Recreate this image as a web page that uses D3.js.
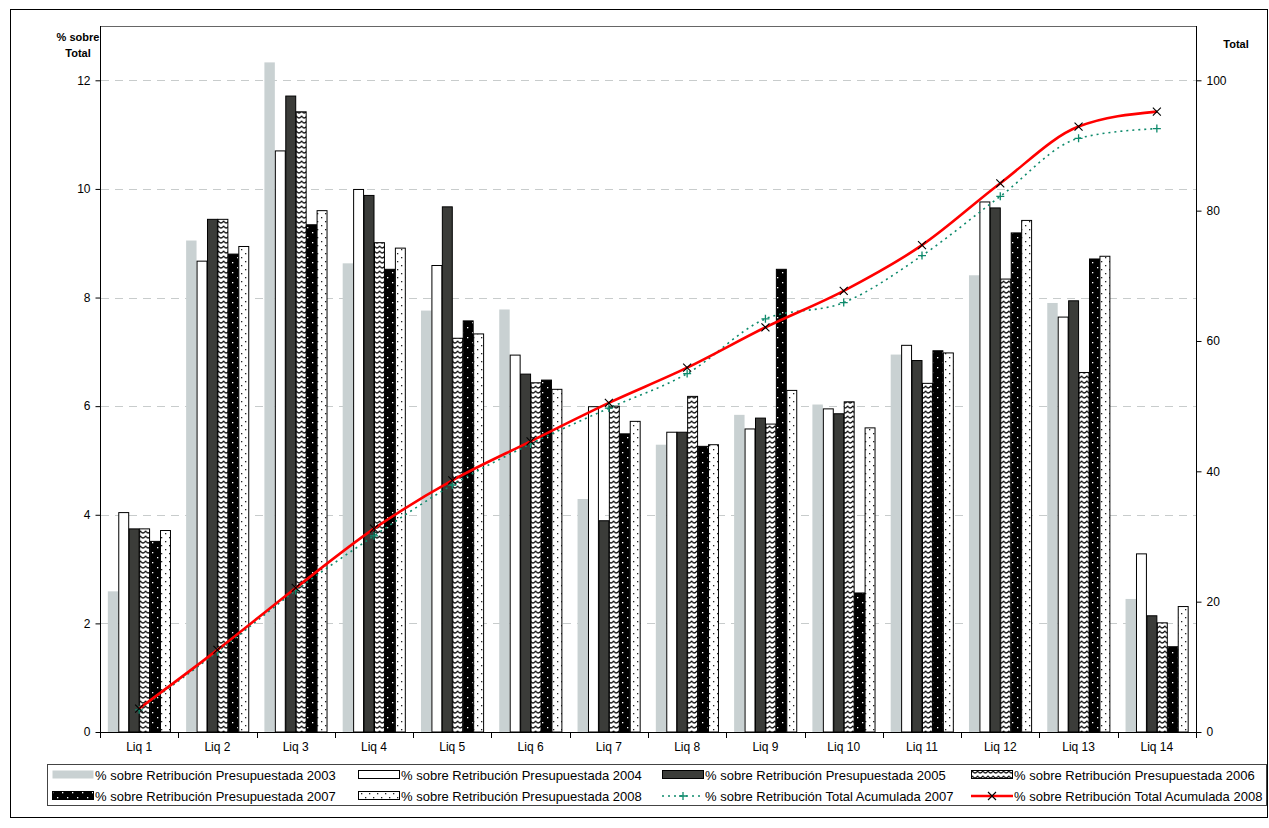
<!DOCTYPE html>
<html><head><meta charset="utf-8">
<script src="https://cdn.jsdelivr.net/npm/d3@7"></script>
<style>
body{margin:0;background:#fff;}
text{font-family:"Liberation Sans",Arial,sans-serif;}
</style></head>
<body><svg id="c" width="1269" height="828"></svg>
<script>
const categories = ["Liq 1","Liq 2","Liq 3","Liq 4","Liq 5","Liq 6","Liq 7","Liq 8","Liq 9","Liq 10","Liq 11","Liq 12","Liq 13","Liq 14"];
const pres2003 = [2.59,9.05,12.33,8.63,7.76,7.78,4.29,5.29,5.84,6.03,6.95,8.41,7.90,2.45];
const pres2004 = [4.04,8.67,10.70,9.99,8.59,6.94,5.99,5.52,5.58,5.95,7.12,9.76,7.64,3.28];
const pres2005 = [3.74,9.44,11.71,9.88,9.67,6.59,3.89,5.52,5.78,5.86,6.84,9.65,7.94,2.14];
const pres2006 = [3.74,9.44,11.42,9.01,7.25,6.43,6.00,6.18,5.67,6.08,6.42,8.34,6.62,2.01];
const pres2007 = [3.51,8.80,9.34,8.52,7.57,6.48,5.49,5.26,8.52,2.56,7.02,9.19,8.71,1.57];
const pres2008 = [3.71,8.94,9.60,8.91,7.33,6.31,5.72,5.29,6.29,5.60,6.98,9.42,8.76,2.31];
const acum2007 = [3.4,12.3,21.7,30.1,37.9,44.2,49.7,55.0,63.4,65.9,73.1,82.2,91.1,92.6];
const acum2008 = [3.6,12.6,22.1,31.2,38.6,44.6,50.5,55.9,62.1,67.7,74.7,84.2,92.9,95.2];
const leftTicks = [0,2,4,6,8,10,12];
const rightTicks = [0,20,40,60,80,100];
const barNames = ["% sobre Retribución Presupuestada 2003","% sobre Retribución Presupuestada 2004","% sobre Retribución Presupuestada 2005","% sobre Retribución Presupuestada 2006","% sobre Retribución Presupuestada 2007","% sobre Retribución Presupuestada 2008"];
const lineNames = ["% sobre Retribución Total Acumulada 2007","% sobre Retribución Total Acumulada 2008"];
const barSeries = [pres2003,pres2004,pres2005,pres2006,pres2007,pres2008];

const svg = d3.select("#c");
const defs = svg.append("defs");
let p = defs.append("pattern").attr("id","p2006").attr("patternUnits","userSpaceOnUse").attr("width",5.2).attr("height",5);
p.append("rect").attr("width",5.2).attr("height",5).attr("fill","#fff");
p.append("path").attr("d","M0,0.8 Q2.6,5.2 5.2,0.8").attr("fill","none").attr("stroke","#111").attr("stroke-width",1.3);
p = defs.append("pattern").attr("id","p2007").attr("patternUnits","userSpaceOnUse").attr("width",10).attr("height",10);
p.append("rect").attr("width",10).attr("height",10).attr("fill","#000");
p.append("rect").attr("x",2).attr("y",2).attr("width",1.3).attr("height",1.3).attr("fill","#fff");
p.append("rect").attr("x",7).attr("y",7).attr("width",1.3).attr("height",1.3).attr("fill","#fff");
p = defs.append("pattern").attr("id","p2008").attr("patternUnits","userSpaceOnUse").attr("width",8).attr("height",8);
p.append("rect").attr("width",8).attr("height",8).attr("fill","#fff");
p.append("rect").attr("x",1).attr("y",1).attr("width",1.3).attr("height",1.3).attr("fill","#222");
p.append("rect").attr("x",5).attr("y",5).attr("width",1.3).attr("height",1.3).attr("fill","#222");

const fills = ["#C9D1D2","#fff","#3B3C39","url(#p2006)","url(#p2007)","url(#p2008)"];
const strokes = ["none","#000","#000","#000","#000","#000"];

svg.append("rect").attr("x",10.5).attr("y",9.5).attr("width",1257).attr("height",808).attr("fill","none").attr("stroke","#000");

const L=100,R=1196,T=26,B=732;
svg.append("rect").attr("x",L+0.5).attr("y",T+0.5).attr("width",R-L).attr("height",B-T).attr("fill","none").attr("stroke","#666");
const x = d3.scaleBand().domain(categories).range([L,R]).paddingInner(0.2).paddingOuter(0.1);
const xs = d3.scaleBand().domain(d3.range(6)).range([0,x.bandwidth()]);
const yL = d3.scaleLinear().domain([0,13]).range([B,T]);
const yR = d3.scaleLinear().domain([0,1300/12]).range([B,T]);

svg.append("g").selectAll("line").data(leftTicks.filter(d=>d>0)).join("line")
 .attr("x1",L+1).attr("x2",R).attr("y1",d=>Math.round(yL(d))+0.5).attr("y2",d=>Math.round(yL(d))+0.5)
 .attr("stroke","#C8CCCC").attr("stroke-dasharray","8,6");

const g = svg.append("g");
barSeries.forEach((vals,i)=>{
  g.append("g").selectAll("rect").data(vals).join("rect")
   .attr("x",(d,j)=>x(categories[j])+xs(i)+(i>0?0.5:0))
   .attr("y",d=>yL(d))
   .attr("width",xs.bandwidth()-(i>0?0.5:0))
   .attr("height",d=>B-yL(d))
   .attr("fill",fills[i]).attr("stroke",strokes[i]).attr("stroke-width",1);
});

const axL = svg.append("g").attr("transform",`translate(${L+0.5},0)`).call(d3.axisLeft(yL).tickValues(leftTicks).tickSize(5).tickPadding(5));
const axR = svg.append("g").attr("transform",`translate(${R+0.5},0)`).call(d3.axisRight(yR).tickValues(rightTicks).tickSize(5).tickPadding(5));
[axL,axR].forEach(a=>{a.select(".domain").attr("d",`M0,${T}V${B}`).attr("stroke","#000");
 a.selectAll("text").attr("font-size",12).attr("font-family","Liberation Sans, Arial").attr("fill","#000");
 a.selectAll(".tick line").attr("stroke","#000");});
const axB = svg.append("g").attr("transform",`translate(0,${B+0.5})`).call(d3.axisBottom(x).tickSize(0).tickPadding(10));
axB.select(".domain").attr("d",`M${L},0H${R}`).attr("stroke","#000");
axB.selectAll("text").attr("font-size",12).attr("font-family","Liberation Sans, Arial").attr("fill","#000");
svg.append("g").selectAll("line").data(d3.range(categories.length+1)).join("line")
 .attr("x1",d=>Math.round(L+d*x.step())+0.5).attr("x2",d=>Math.round(L+d*x.step())+0.5)
 .attr("y1",B).attr("y2",B+6).attr("stroke","#000");

svg.append("text").attr("x",78).attr("y",41).attr("text-anchor","middle").attr("font-size",11).attr("font-weight","bold").text("% sobre");
svg.append("text").attr("x",78).attr("y",57).attr("text-anchor","middle").attr("font-size",11).attr("font-weight","bold").text("Total");
svg.append("text").attr("x",1236).attr("y",48).attr("text-anchor","middle").attr("font-size",11).attr("font-weight","bold").text("Total");

const cx = c=>x(c)+x.bandwidth()/2;
const lineGen = d3.line().x((d,i)=>cx(categories[i])).y(d=>yR(d)).curve(d3.curveMonotoneX);
svg.append("path").attr("d",lineGen(acum2007)).attr("fill","none").attr("stroke","#0E8A6C").attr("stroke-width",1.6).attr("stroke-dasharray","2,4");
svg.append("g").selectAll("path").data(acum2007).join("path")
 .attr("d",(d,i)=>{const X=cx(categories[i]),Y=yR(d);return `M${X-4},${Y}H${X+4}M${X},${Y-4}V${Y+4}`;})
 .attr("stroke","#0E8A6C").attr("stroke-width",1.3);
svg.append("path").attr("d",lineGen(acum2008)).attr("fill","none").attr("stroke","#FF0000").attr("stroke-width",2.6);
svg.append("g").selectAll("path").data(acum2008).join("path")
 .attr("d",(d,i)=>{const X=cx(categories[i]),Y=yR(d);return `M${X-4},${Y-4}L${X+4},${Y+4}M${X-4},${Y+4}L${X+4},${Y-4}`;})
 .attr("stroke","#000").attr("stroke-width",1.1);

const lg = svg.append("g");
lg.append("rect").attr("x",47.5).attr("y",764.5).attr("width",1219).attr("height",41).attr("fill","#fff").attr("stroke","#444");
const colX=[52,358,662,971], rowY=[775,796];
const items=[
 {t:barNames[0],k:"bar",i:0,c:0,r:0},{t:barNames[1],k:"bar",i:1,c:1,r:0},{t:barNames[2],k:"bar",i:2,c:2,r:0},{t:barNames[3],k:"bar",i:3,c:3,r:0},
 {t:barNames[4],k:"bar",i:4,c:0,r:1},{t:barNames[5],k:"bar",i:5,c:1,r:1},{t:lineNames[0],k:"l7",c:2,r:1},{t:lineNames[1],k:"l8",c:3,r:1}];
items.forEach(it=>{
 const X=colX[it.c],Y=rowY[it.r];
 if(it.k==="bar"){
   lg.append("rect").attr("x",X+0.5).attr("y",Y-4.5).attr("width",41).attr("height",8).attr("fill",fills[it.i]).attr("stroke",strokes[it.i]);
 } else if(it.k==="l7"){
   lg.append("line").attr("x1",X).attr("x2",X+42).attr("y1",Y).attr("y2",Y).attr("stroke","#0E8A6C").attr("stroke-width",1.6).attr("stroke-dasharray","2,4");
   lg.append("path").attr("d",`M${X+17},${Y}H${X+25}M${X+21},${Y-4}V${Y+4}`).attr("stroke","#0E8A6C").attr("stroke-width",1.3);
 } else {
   lg.append("line").attr("x1",X).attr("x2",X+42).attr("y1",Y).attr("y2",Y).attr("stroke","#FF0000").attr("stroke-width",2.6);
   lg.append("path").attr("d",`M${X+17},${Y-4}L${X+25},${Y+4}M${X+17},${Y+4}L${X+25},${Y-4}`).attr("stroke","#000").attr("stroke-width",1.1);
 }
 lg.append("text").attr("x",X+43).attr("y",Y+4.5).attr("font-size",13).text(it.t);
});
</script></body></html>
